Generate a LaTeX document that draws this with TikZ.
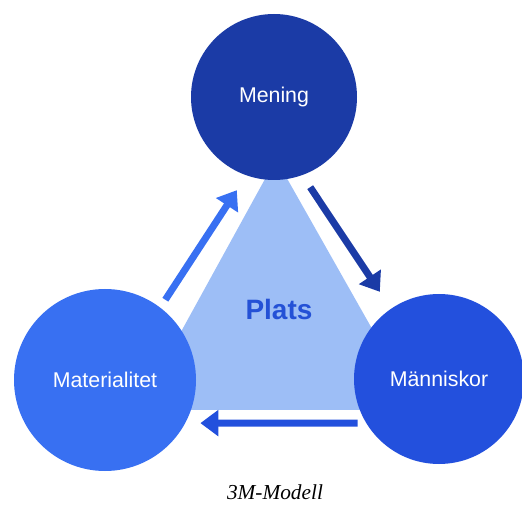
\documentclass[tikz,border=0pt]{standalone}
\usepackage{fontspec}
\setmainfont{Liberation Sans}
\newfontfamily\capfont{Liberation Serif}
\usetikzlibrary{arrows.meta}
\definecolor{meningblue}{HTML}{1B3BA6}
\definecolor{matblue}{HTML}{3870F2}
\definecolor{manblue}{HTML}{2350DD}
\definecolor{platsfill}{HTML}{9DBEF6}
\definecolor{platstext}{HTML}{2451D6}

\begin{document}
\begin{tikzpicture}[x=0.75pt, y=-0.75pt,
circlenode/.style={circle, inner sep=0pt, text=white, font=\fontsize{16}{19}\selectfont},
flowarrow/.style={line width=5.25pt, -{Triangle[length=13.5pt, width=19pt]}},
]
\useasboundingbox (0,0) rectangle (522,506);

%Triangle
\fill[platsfill] (276,159) -- (138,410) -- (418,410) -- cycle;
\node[text=platstext, font=\bfseries\fontsize{21}{25}\selectfont] (plats) at (279,309) {Plats};

%Nodes
\node[circlenode, fill=meningblue, minimum size=124.5pt] (mening) at (274,97)  {Mening};
\node[circlenode, fill=matblue,    minimum size=136.5pt] (mat)    at (105,380) {Materialitet};
\node[circlenode, fill=manblue,    minimum size=127.5pt] (man)    at (439,379) {Människor};

%Lines
\draw[flowarrow, color=matblue]    ([shift={(8,-5.5)}]mat.55)     -- ([shift={(-6,16)}]mening.-112);
\draw[flowarrow, color=meningblue] ([shift={(5,13)}]mening.-68)   -- ([shift={(-11.5,-16.5)}]man.124);
\draw[flowarrow, color=manblue]    ([shift={(-6,4)}]man.208)      -- ([shift={(12,6)}]mat.-24);

%Caption
\node[font=\capfont\itshape\fontsize{16}{19}\selectfont] (caption) at (275,492) {3M-Modell};

\end{tikzpicture}
\end{document}
